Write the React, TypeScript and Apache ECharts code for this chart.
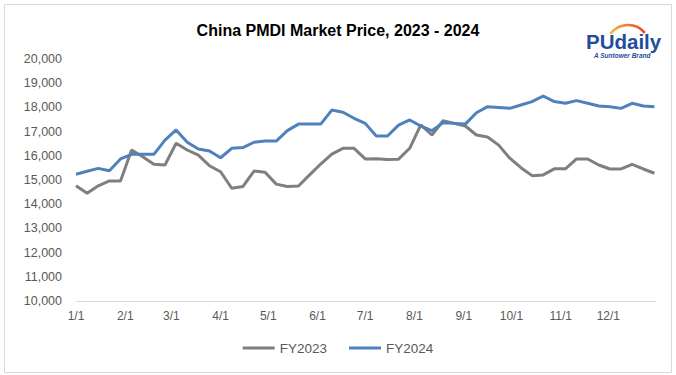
import React, { useEffect, useRef } from "react";
import * as echarts from "echarts";

// Weekly prices (first week of January through the last week of December)
const fy2023: number[] = [
  14760, 14450, 14760, 14960, 14960, 16240, 15960, 15650, 15620, 16520,
  16240, 16030, 15590, 15340, 14660, 14730, 15370, 15320, 14830, 14730,
  14750, 15210, 15660, 16070, 16310, 16310, 15870, 15880, 15850, 15860,
  16310, 17280, 16860, 17450, 17340, 17230, 16860, 16780, 16440, 15900,
  15510, 15180, 15210, 15460, 15460, 15870, 15870, 15620, 15455, 15455,
  15650, 15455, 15280,
];
const fy2024: number[] = [
  15240, 15360, 15480, 15380, 15870, 16060, 16060, 16060, 16650, 17070,
  16560, 16280, 16200, 15920, 16310, 16340, 16560, 16610, 16610, 17040,
  17310, 17310, 17310, 17890, 17800, 17550, 17340, 16820, 16820, 17270,
  17480, 17230, 17040, 17370, 17340, 17310, 17780, 18030, 18000, 17960,
  18100, 18240, 18470, 18240, 18170, 18280, 18170, 18060, 18030, 17960,
  18170, 18060, 18030,
];
const seriesNames: string[] = ["FY2023", "FY2024"];
const titleText = "China PMDI Market Price, 2023 - 2024";
const yMin = 10000;
const yMax = 20000;
const yStep = 1000;

// Day-of-year categories (M/D) for a full year
const dayCategories: string[] = (() => {
  const out: string[] = [];
  const d = new Date(2024, 0, 1);
  while (d.getFullYear() === 2024) {
    out.push(`${d.getMonth() + 1}/${d.getDate()}`);
    d.setDate(d.getDate() + 1);
  }
  return out;
})();

const toWeekly = (vals: number[]) => vals.map((v, i) => [i * 7, v]);

export default function App() {
  const ref = useRef<HTMLDivElement>(null);
  useEffect(() => {
    if (!ref.current) return;
    const chart = echarts.init(ref.current, undefined, { renderer: "svg" });
    const font = "Arial, 'Liberation Sans', sans-serif";
    chart.setOption({
      animation: false,
      backgroundColor: "#ffffff",
      title: {
        text: titleText,
        left: "center",
        top: 17,
        textStyle: { fontFamily: font, fontSize: 16, fontWeight: "bold", color: "#000000" },
      },
      legend: {
        bottom: 15,
        left: "center",
        icon: "rect",
        itemWidth: 32,
        itemHeight: 3,
        itemGap: 22,
        textStyle: { fontFamily: font, fontSize: 13.5, color: "#595959" },
        data: seriesNames,
      },
      grid: { left: 76, right: 20, top: 59, bottom: 74 },
      xAxis: {
        type: "category",
        data: dayCategories,
        boundaryGap: false,
        axisLine: { lineStyle: { color: "#d9d9d9", width: 1 } },
        axisTick: { show: false },
        axisLabel: {
          interval: (_i: number, v: string) => /^\d+\/1$/.test(v),
          fontFamily: font,
          fontSize: 12,
          color: "#595959",
          margin: 9,
        },
        splitLine: { show: false },
      },
      yAxis: {
        type: "value",
        min: yMin,
        max: yMax,
        interval: yStep,
        axisLine: { show: false },
        axisTick: { show: false },
        splitLine: { show: false },
        axisLabel: {
          fontFamily: font,
          fontSize: 12.5,
          color: "#595959",
          margin: 14,
          formatter: (v: number) => v.toLocaleString("en-US"),
        },
      },
      series: [
        {
          name: seriesNames[0],
          type: "line",
          data: toWeekly(fy2023),
          showSymbol: false,
          symbol: "none",
          lineStyle: { color: "#7f7f7f", width: 3 },
          itemStyle: { color: "#7f7f7f" },
        },
        {
          name: seriesNames[1],
          type: "line",
          data: toWeekly(fy2024),
          showSymbol: false,
          symbol: "none",
          lineStyle: { color: "#4f81bd", width: 3 },
          itemStyle: { color: "#4f81bd" },
        },
      ],
      graphic: [
        {
          type: "rect",
          shape: { x: 4.5, y: 4.5, width: 667, height: 368 },
          style: { fill: "none", stroke: "#d9d9d9", lineWidth: 1 },
          silent: true,
        },
        {
          type: "arc",
          shape: { cx: 628, cy: 47, r: 22, startAngle: -2.5, endAngle: -0.7 },
          style: {
            stroke: new echarts.graphic.LinearGradient(0, 0, 1, 0, [
              { offset: 0, color: "#f9b233" },
              { offset: 1, color: "#e6452a" },
            ]),
            lineWidth: 2.5,
            fill: "none",
          },
          silent: true,
        },
        {
          type: "text",
          x: 586,
          y: 32,
          style: {
            text: "PUdaily",
            fontFamily: font,
            fontSize: 20.5,
            lineHeight: 19,
            fontWeight: "bold",
            fill: "#1f4e9c",
            verticalAlign: "top",
          },
          silent: true,
        },
        {
          type: "text",
          x: 594,
          y: 52,
          style: {
            text: "A Suntower Brand",
            fontFamily: font,
            fontSize: 6.5,
            lineHeight: 7,
            fontStyle: "italic",
            fontWeight: "bold",
            fill: "#1f4e9c",
            verticalAlign: "top",
          },
          silent: true,
        },
      ],
    });
    return () => chart.dispose();
  }, []);
  return (
    <div
      ref={ref}
      style={{ position: "fixed", left: 0, top: 0, width: 676, height: 375, background: "#fff" }}
    />
  );
}
